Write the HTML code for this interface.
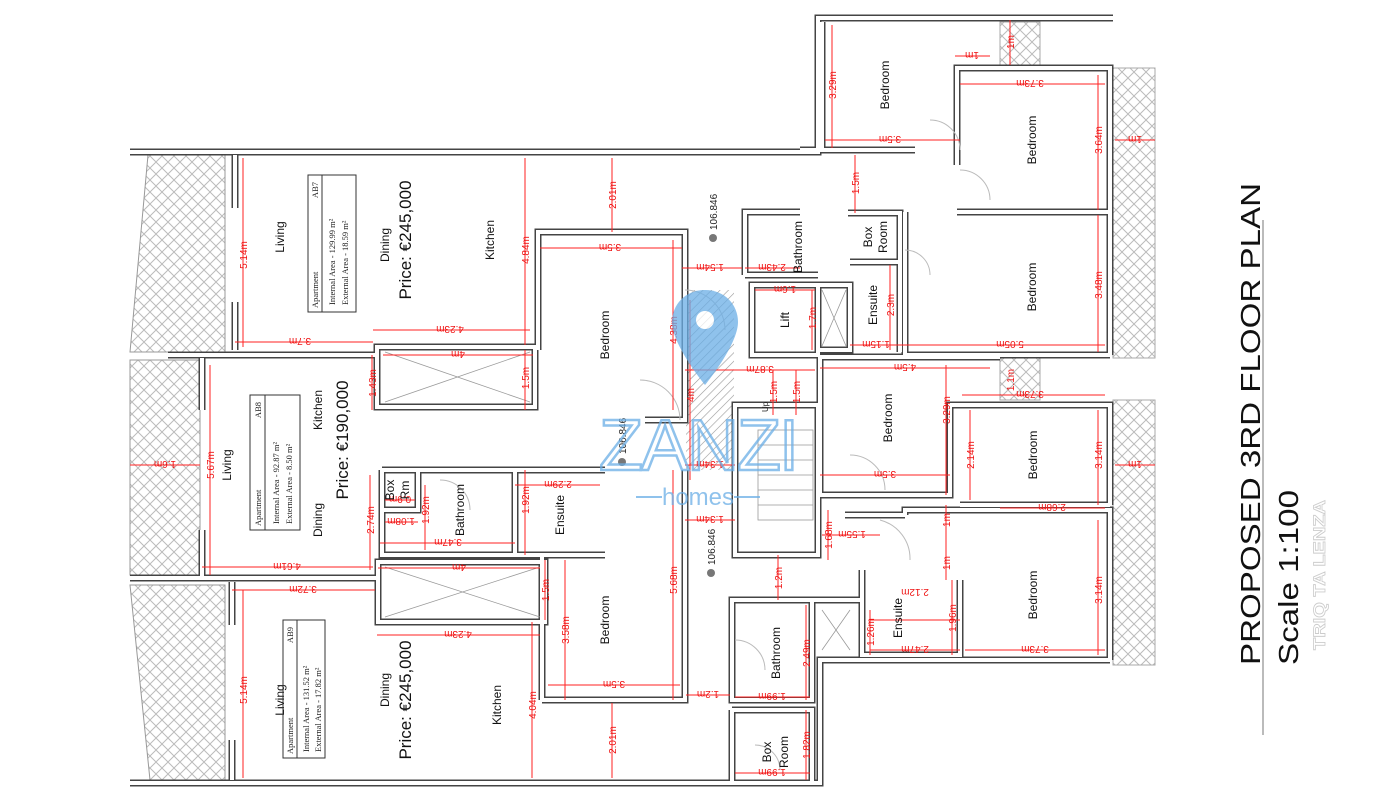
<!DOCTYPE html>
<html><head><meta charset="utf-8"><style>
html,body{margin:0;padding:0;background:#fff}
svg{display:block}
.t{font-family:"Liberation Sans",sans-serif;font-size:12px;fill:#111}
.p{font-family:"Liberation Sans",sans-serif;font-size:17px;fill:#111}
.s{font-family:"Liberation Serif",serif;font-size:8.5px;fill:#222}
.d{font-family:"Liberation Sans",sans-serif;font-size:10px;fill:#e11}
.w1{fill:none;stroke:#444;stroke-width:7}
.w2{fill:none;stroke:#fff;stroke-width:4}
.r{stroke:#f22;stroke-width:1;fill:none}
</style></head><body>
<svg width="1395" height="800" viewBox="0 0 1395 800" xmlns="http://www.w3.org/2000/svg">
<defs>
<pattern id="hx" width="12" height="12" patternUnits="userSpaceOnUse">
<path d="M0 6 L6 0 L12 6 L6 12 Z" fill="none" stroke="#bbb" stroke-width="1"/>
</pattern>
<pattern id="dg" width="6" height="6" patternUnits="userSpaceOnUse" patternTransform="rotate(45)">
<line x1="0" y1="0" x2="0" y2="6" stroke="#999" stroke-width="1.2"/>
</pattern>
<g id="walls">
<path d="M130 152 H818 V18 H1113"/>
<path d="M130 783 H820 V660 H1110"/>
<path d="M235 155 V208 M235 302 V350 M168 355 H375 M202 358 V410 M202 530 V578 M130 578 H378 M232 582 V625 M232 740 V780"/>
<path d="M377 347 H535 V407 H377 Z M378 562 H545 V622 H378 Z"/>
<path d="M538 350 V232 H685 V420 H645 M542 700 V555 H600 M542 700 H685 V470"/>
<path d="M382 470 H418 V510 H382 M418 470 H515 V555 H382 V470 M515 470 H605 M515 555 H605"/>
<path d="M735 405 H818 V555 H735 Z M752 285 H818 V355 H752 Z M745 275 V212 H800 M745 275 H818 M818 285 H850 V350 H818"/>
<path d="M850 262 H900 V352 M848 213 H900 V262 M820 357 H1000 M822 148 V22 M800 150 H915"/>
<path d="M957 165 V68 H1110 V355 M957 212 H1110 M905 212 V355 H1110"/>
<path d="M820 357 V495 H950 V405 H1110 V505 M960 505 H1110 M905 515 V510 H1110 V660 M905 515 H845"/>
<path d="M862 570 V655 H960 V580 M732 600 H812 V700 H732 Z M732 710 H812 V785 M732 710 V785 M812 600 H862"/>
</g>
</defs>

<!-- hatched balconies -->
<path d="M148 155 L225 155 L225 352 L130 352 Z" fill="url(#hx)" stroke="#999"/>
<rect x="130" y="360" width="70" height="215" fill="url(#hx)" stroke="#999"/>
<path d="M130 585 L225 585 L225 780 L150 780 Z" fill="url(#hx)" stroke="#999"/>
<rect x="1113" y="68" width="42" height="290" fill="url(#hx)" stroke="#aaa"/>
<rect x="1113" y="400" width="42" height="265" fill="url(#hx)" stroke="#aaa"/>
<rect x="1000" y="22" width="40" height="43" fill="url(#hx)" stroke="#aaa"/>
<rect x="1000" y="358" width="40" height="42" fill="url(#hx)" stroke="#aaa"/>
<rect x="686" y="290" width="48" height="180" fill="url(#dg)"/>

<use href="#walls" class="w1"/>
<use href="#walls" class="w2"/>

<!-- light wells / shafts -->
<g stroke="#999" stroke-width="0.8" fill="none">
<path d="M385 352 L530 402 M385 402 L530 352 M385 567 L540 617 M385 617 L540 567 M822 290 L846 346 M846 290 L822 346 M822 610 L850 650 M850 610 L822 650"/>
<rect x="758" y="430" width="55" height="90"/>
<path d="M758 445 H813 M758 460 H813 M758 475 H813 M758 490 H813 M758 505 H813"/>
</g>
<g stroke="#bbb" fill="none">
<path d="M930 120 A30 30 0 0 1 960 150 M960 170 A30 30 0 0 1 990 200 M905 250 A25 25 0 0 1 930 275 M685 290 A40 40 0 0 1 725 330 M640 380 A40 40 0 0 1 680 420 M850 455 A35 35 0 0 1 885 490 M880 520 A40 40 0 0 1 910 560 M440 480 A30 30 0 0 1 470 510 M755 745 A25 25 0 0 1 780 770 M735 640 A30 30 0 0 1 765 670"/>
</g>

<!-- dimensions -->
<g class="r">
<path d="M243 158V347 M525 158V345 M612 158V232 M673 240V410 M525 350V410 M372 355V410 M210 365V575 M370 475V570 M425 485V550 M525 470V555 M545 560V620 M565 560V700 M673 470V700 M243 590V778 M532 622V778 M612 703V778 M832 25V148 M1098 75V210 M1098 215V352 M855 155V213 M812 290V350 M890 265V350 M946 365V495 M970 410V500 M1098 410V505 M1098 520V655 M946 505V580 M828 510V560 M778 555V600 M952 580V655 M806 605V700 M806 710V780 M870 610V655 M690 300V480 M773 370V415 M796 370V415 M1010 20V65"/>
<path d="M235 342H373 M373 330H530 M383 355H533 M540 248H682 M682 268H742 M745 268H800 M755 290H815 M685 370H815 M820 368H990 M900 345H1105 M850 345H900 M960 84H1105 M825 140H960 M955 56H990 M962 395H1105 M820 475H950 M1000 508H1105 M822 535H880 M202 567H373 M232 590H375 M378 568H540 M377 635H540 M548 685H680 M380 543H515 M515 485H600 M385 522H418 M385 500H415 M130 465H200 M685 465H735 M685 520H735 M686 695H730 M735 697H810 M735 773H810 M870 650H960 M870 620H960 M965 650H1105 M1115 140H1155 M1115 465H1155"/>
</g>
<g class="d">
<text transform="rotate(-90 243 255)" x="243" y="255" text-anchor="middle" dy="4">5.14m</text>
<text transform="rotate(-90 525 250)" x="525" y="250" text-anchor="middle" dy="4">4.84m</text>
<text transform="rotate(-90 612 195)" x="612" y="195" text-anchor="middle" dy="4">2.01m</text>
<text transform="rotate(-90 673 330)" x="673" y="330" text-anchor="middle" dy="4">4.38m</text>
<text transform="rotate(-90 525 378)" x="525" y="378" text-anchor="middle" dy="4">1.5m</text>
<text transform="rotate(-90 372 383)" x="372" y="383" text-anchor="middle" dy="4">1.43m</text>
<text transform="rotate(-90 210 465)" x="210" y="465" text-anchor="middle" dy="4">5.67m</text>
<text transform="rotate(-90 370 520)" x="370" y="520" text-anchor="middle" dy="4">2.74m</text>
<text transform="rotate(-90 425 510)" x="425" y="510" text-anchor="middle" dy="4">1.92m</text>
<text transform="rotate(-90 525 500)" x="525" y="500" text-anchor="middle" dy="4">1.92m</text>
<text transform="rotate(-90 545 590)" x="545" y="590" text-anchor="middle" dy="4">1.5m</text>
<text transform="rotate(-90 565 630)" x="565" y="630" text-anchor="middle" dy="4">3.58m</text>
<text transform="rotate(-90 673 580)" x="673" y="580" text-anchor="middle" dy="4">5.68m</text>
<text transform="rotate(-90 243 690)" x="243" y="690" text-anchor="middle" dy="4">5.14m</text>
<text transform="rotate(-90 532 705)" x="532" y="705" text-anchor="middle" dy="4">4.04m</text>
<text transform="rotate(-90 612 740)" x="612" y="740" text-anchor="middle" dy="4">2.01m</text>
<text transform="rotate(-90 832 85)" x="832" y="85" text-anchor="middle" dy="4">3.29m</text>
<text transform="rotate(-90 1098 140)" x="1098" y="140" text-anchor="middle" dy="4">3.64m</text>
<text transform="rotate(-90 1098 285)" x="1098" y="285" text-anchor="middle" dy="4">3.48m</text>
<text transform="rotate(-90 855 183)" x="855" y="183" text-anchor="middle" dy="4">1.5m</text>
<text transform="rotate(-90 812 318)" x="812" y="318" text-anchor="middle" dy="4">1.7m</text>
<text transform="rotate(-90 890 305)" x="890" y="305" text-anchor="middle" dy="4">2.3m</text>
<text transform="rotate(-90 946 410)" x="946" y="410" text-anchor="middle" dy="4">3.29m</text>
<text transform="rotate(-90 970 455)" x="970" y="455" text-anchor="middle" dy="4">2.14m</text>
<text transform="rotate(-90 1098 455)" x="1098" y="455" text-anchor="middle" dy="4">3.14m</text>
<text transform="rotate(-90 1098 590)" x="1098" y="590" text-anchor="middle" dy="4">3.14m</text>
<text transform="rotate(-90 946 520)" x="946" y="520" text-anchor="middle" dy="4">1m</text>
<text transform="rotate(-90 946 563)" x="946" y="563" text-anchor="middle" dy="4">1m</text>
<text transform="rotate(-90 828 535)" x="828" y="535" text-anchor="middle" dy="4">1.68m</text>
<text transform="rotate(-90 778 578)" x="778" y="578" text-anchor="middle" dy="4">1.2m</text>
<text transform="rotate(-90 952 618)" x="952" y="618" text-anchor="middle" dy="4">1.96m</text>
<text transform="rotate(-90 806 653)" x="806" y="653" text-anchor="middle" dy="4">2.49m</text>
<text transform="rotate(-90 806 745)" x="806" y="745" text-anchor="middle" dy="4">1.82m</text>
<text transform="rotate(-90 870 632)" x="870" y="632" text-anchor="middle" dy="4">1.26m</text>
<text transform="rotate(-90 690 395)" x="690" y="395" text-anchor="middle" dy="4">4m</text>
<text transform="rotate(-90 773 392)" x="773" y="392" text-anchor="middle" dy="4">1.5m</text>
<text transform="rotate(-90 796 392)" x="796" y="392" text-anchor="middle" dy="4">1.5m</text>
<text transform="rotate(-90 1010 42)" x="1010" y="42" text-anchor="middle" dy="4">1m</text>
<text transform="rotate(-90 1010 380)" x="1010" y="380" text-anchor="middle" dy="4">1.1m</text>
<text transform="rotate(180 300 342)" x="300" y="342" text-anchor="middle" dy="4">3.7m</text>
<text transform="rotate(180 450 330)" x="450" y="330" text-anchor="middle" dy="4">4.23m</text>
<text transform="rotate(180 458 355)" x="458" y="355" text-anchor="middle" dy="4">4m</text>
<text transform="rotate(180 610 248)" x="610" y="248" text-anchor="middle" dy="4">3.5m</text>
<text transform="rotate(180 710 268)" x="710" y="268" text-anchor="middle" dy="4">1.54m</text>
<text transform="rotate(180 772 268)" x="772" y="268" text-anchor="middle" dy="4">2.43m</text>
<text transform="rotate(180 785 290)" x="785" y="290" text-anchor="middle" dy="4">1.6m</text>
<text transform="rotate(180 760 370)" x="760" y="370" text-anchor="middle" dy="4">3.87m</text>
<text transform="rotate(180 905 368)" x="905" y="368" text-anchor="middle" dy="4">4.5m</text>
<text transform="rotate(180 1010 345)" x="1010" y="345" text-anchor="middle" dy="4">5.05m</text>
<text transform="rotate(180 876 345)" x="876" y="345" text-anchor="middle" dy="4">1.15m</text>
<text transform="rotate(180 1030 84)" x="1030" y="84" text-anchor="middle" dy="4">3.73m</text>
<text transform="rotate(180 890 140)" x="890" y="140" text-anchor="middle" dy="4">3.5m</text>
<text transform="rotate(180 972 56)" x="972" y="56" text-anchor="middle" dy="4">1m</text>
<text transform="rotate(180 1030 395)" x="1030" y="395" text-anchor="middle" dy="4">3.73m</text>
<text transform="rotate(180 885 475)" x="885" y="475" text-anchor="middle" dy="4">3.5m</text>
<text transform="rotate(180 1052 508)" x="1052" y="508" text-anchor="middle" dy="4">2.68m</text>
<text transform="rotate(180 852 535)" x="852" y="535" text-anchor="middle" dy="4">1.55m</text>
<text transform="rotate(180 287 567)" x="287" y="567" text-anchor="middle" dy="4">4.61m</text>
<text transform="rotate(180 303 590)" x="303" y="590" text-anchor="middle" dy="4">3.72m</text>
<text transform="rotate(180 459 568)" x="459" y="568" text-anchor="middle" dy="4">4m</text>
<text transform="rotate(180 458 635)" x="458" y="635" text-anchor="middle" dy="4">4.23m</text>
<text transform="rotate(180 614 685)" x="614" y="685" text-anchor="middle" dy="4">3.5m</text>
<text transform="rotate(180 448 543)" x="448" y="543" text-anchor="middle" dy="4">3.47m</text>
<text transform="rotate(180 558 485)" x="558" y="485" text-anchor="middle" dy="4">2.29m</text>
<text transform="rotate(180 401 522)" x="401" y="522" text-anchor="middle" dy="4">1.08m</text>
<text transform="rotate(180 400 500)" x="400" y="500" text-anchor="middle" dy="4">0.9m</text>
<text transform="rotate(180 165 465)" x="165" y="465" text-anchor="middle" dy="4">1.6m</text>
<text transform="rotate(180 710 465)" x="710" y="465" text-anchor="middle" dy="4">1.34m</text>
<text transform="rotate(180 710 520)" x="710" y="520" text-anchor="middle" dy="4">1.34m</text>
<text transform="rotate(180 708 695)" x="708" y="695" text-anchor="middle" dy="4">1.2m</text>
<text transform="rotate(180 772 697)" x="772" y="697" text-anchor="middle" dy="4">1.99m</text>
<text transform="rotate(180 772 773)" x="772" y="773" text-anchor="middle" dy="4">1.99m</text>
<text transform="rotate(180 915 650)" x="915" y="650" text-anchor="middle" dy="4">2.47m</text>
<text transform="rotate(180 915 593)" x="915" y="593" text-anchor="middle" dy="4">2.12m</text>
<text transform="rotate(180 1035 650)" x="1035" y="650" text-anchor="middle" dy="4">3.73m</text>
<text transform="rotate(180 1135 140)" x="1135" y="140" text-anchor="middle" dy="4">1m</text>
<text transform="rotate(180 1135 465)" x="1135" y="465" text-anchor="middle" dy="4">1m</text>
</g>

<!-- room labels -->
<g class="t" text-anchor="middle">
<text transform="rotate(-90 280 237)" x="280" y="237" dy="4">Living</text>
<text transform="rotate(-90 385 245)" x="385" y="245" dy="4">Dining</text>
<text transform="rotate(-90 490 240)" x="490" y="240" dy="4">Kitchen</text>
<text transform="rotate(-90 605 335)" x="605" y="335" dy="4">Bedroom</text>
<text transform="rotate(-90 227 465)" x="227" y="465" dy="4">Living</text>
<text transform="rotate(-90 318 410)" x="318" y="410" dy="4">Kitchen</text>
<text transform="rotate(-90 318 520)" x="318" y="520" dy="4">Dining</text>
<text transform="rotate(-90 390 490)" x="390" y="490" dy="4">Box</text>
<text transform="rotate(-90 405 490)" x="405" y="490" dy="4">Rm</text>
<text transform="rotate(-90 460 510)" x="460" y="510" dy="4">Bathroom</text>
<text transform="rotate(-90 560 515)" x="560" y="515" dy="4">Ensuite</text>
<text transform="rotate(-90 280 700)" x="280" y="700" dy="4">Living</text>
<text transform="rotate(-90 385 690)" x="385" y="690" dy="4">Dining</text>
<text transform="rotate(-90 497 705)" x="497" y="705" dy="4">Kitchen</text>
<text transform="rotate(-90 605 620)" x="605" y="620" dy="4">Bedroom</text>
<text transform="rotate(-90 885 85)" x="885" y="85" dy="4">Bedroom</text>
<text transform="rotate(-90 1032 140)" x="1032" y="140" dy="4">Bedroom</text>
<text transform="rotate(-90 1032 287)" x="1032" y="287" dy="4">Bedroom</text>
<text transform="rotate(-90 798 247)" x="798" y="247" dy="4">Bathroom</text>
<text transform="rotate(-90 868 237)" x="868" y="237" dy="4">Box</text>
<text transform="rotate(-90 883 237)" x="883" y="237" dy="4">Room</text>
<text transform="rotate(-90 873 305)" x="873" y="305" dy="4">Ensuite</text>
<text transform="rotate(-90 785 320)" x="785" y="320" dy="4">Lift</text>
<text transform="rotate(-90 888 418)" x="888" y="418" dy="4">Bedroom</text>
<text transform="rotate(-90 1033 455)" x="1033" y="455" dy="4">Bedroom</text>
<text transform="rotate(-90 1033 595)" x="1033" y="595" dy="4">Bedroom</text>
<text transform="rotate(-90 898 618)" x="898" y="618" dy="4">Ensuite</text>
<text transform="rotate(-90 776 653)" x="776" y="653" dy="4">Bathroom</text>
<text transform="rotate(-90 767 752)" x="767" y="752" dy="4">Box</text>
<text transform="rotate(-90 784 752)" x="784" y="752" dy="4">Room</text>
</g>
<g class="p" text-anchor="middle">
<text transform="rotate(-90 405 240)" x="405" y="240" dy="6">Price: €245,000</text>
<text transform="rotate(-90 342 440)" x="342" y="440" dy="6">Price: €190,000</text>
<text transform="rotate(-90 405 700)" x="405" y="700" dy="6">Price: €245,000</text>
</g>

<!-- area tables -->
<g fill="none" stroke="#333" stroke-width="1">
<rect x="308" y="175" width="48" height="137"/><path d="M322 175V312"/>
<rect x="250" y="395" width="50" height="135"/><path d="M265 395V530"/>
<rect x="283" y="620" width="42" height="138"/><path d="M297 620V758"/>
</g>
<g class="s">
<text transform="rotate(-90 318 308)" x="318" y="308">Apartment</text>
<text transform="rotate(-90 318 182)" x="318" y="182" text-anchor="end">AB7</text>
<text transform="rotate(-90 335 305)" x="335" y="305">Internal Area  -  129.99 m²</text>
<text transform="rotate(-90 348 305)" x="348" y="305">External Area  -  18.59 m²</text>
<text transform="rotate(-90 261 526)" x="261" y="526">Apartment</text>
<text transform="rotate(-90 261 402)" x="261" y="402" text-anchor="end">AB8</text>
<text transform="rotate(-90 279 524)" x="279" y="524">Internal Area  -  92.87 m²</text>
<text transform="rotate(-90 292 524)" x="292" y="524">External Area  -  8.50 m²</text>
<text transform="rotate(-90 293 754)" x="293" y="754">Apartment</text>
<text transform="rotate(-90 293 627)" x="293" y="627" text-anchor="end">AB9</text>
<text transform="rotate(-90 309 752)" x="309" y="752">Internal Area  -  131.52 m²</text>
<text transform="rotate(-90 321 752)" x="321" y="752">External Area  -  17.82 m²</text>
</g>

<!-- levels -->
<g font-family="Liberation Sans,sans-serif" font-size="10" fill="#222">
<circle cx="713" cy="238" r="4" fill="#777"/><text transform="rotate(-90 713 230)" x="713" y="230" dy="4">106.846</text>
<circle cx="622" cy="462" r="4" fill="#777"/><text transform="rotate(-90 622 454)" x="622" y="454" dy="4">106.846</text>
<circle cx="711" cy="573" r="4" fill="#777"/><text transform="rotate(-90 711 565)" x="711" y="565" dy="4">106.846</text>
<text transform="rotate(-90 765 412)" x="765" y="412" dy="3" font-size="8">Up</text>
</g>

<!-- watermark -->
<g opacity="0.75">
<path d="M705 290 C685 290 672 305 672 322 C672 345 705 385 705 385 C705 385 738 345 738 322 C738 305 725 290 705 290 Z" fill="#6aaee6"/>
<circle cx="705" cy="320" r="9" fill="#fff"/>
<text x="698" y="470" text-anchor="middle" font-family="Liberation Sans,sans-serif" font-size="72" fill="none" stroke="#6aaee6" stroke-width="2.5" letter-spacing="-2">ZANZI</text>
<text x="698" y="505" text-anchor="middle" font-family="Liberation Sans,sans-serif" font-size="24" fill="#6aaee6">homes</text>
<path d="M636 497H662 M734 497H760" stroke="#6aaee6" stroke-width="2"/>
</g>

<!-- title -->
<text transform="rotate(-90 1260 665)" x="1260" y="665" font-family="Liberation Sans,sans-serif" font-size="28" fill="#111" textLength="482" lengthAdjust="spacingAndGlyphs">PROPOSED 3RD FLOOR PLAN</text>
<path d="M1263 220V735" stroke="#777" stroke-width="1"/>
<text transform="rotate(-90 1298 665)" x="1298" y="665" font-family="Liberation Sans,sans-serif" font-size="28" fill="#111" textLength="175" lengthAdjust="spacingAndGlyphs">Scale 1:100</text>
<text transform="rotate(-90 1325 650)" x="1325" y="650" font-family="Liberation Sans,sans-serif" font-size="17" font-weight="bold" fill="#fff" stroke="#ccc" stroke-width="0.8" textLength="150" lengthAdjust="spacingAndGlyphs">TRIQ TA LENZA</text>
</svg>
</body></html>
